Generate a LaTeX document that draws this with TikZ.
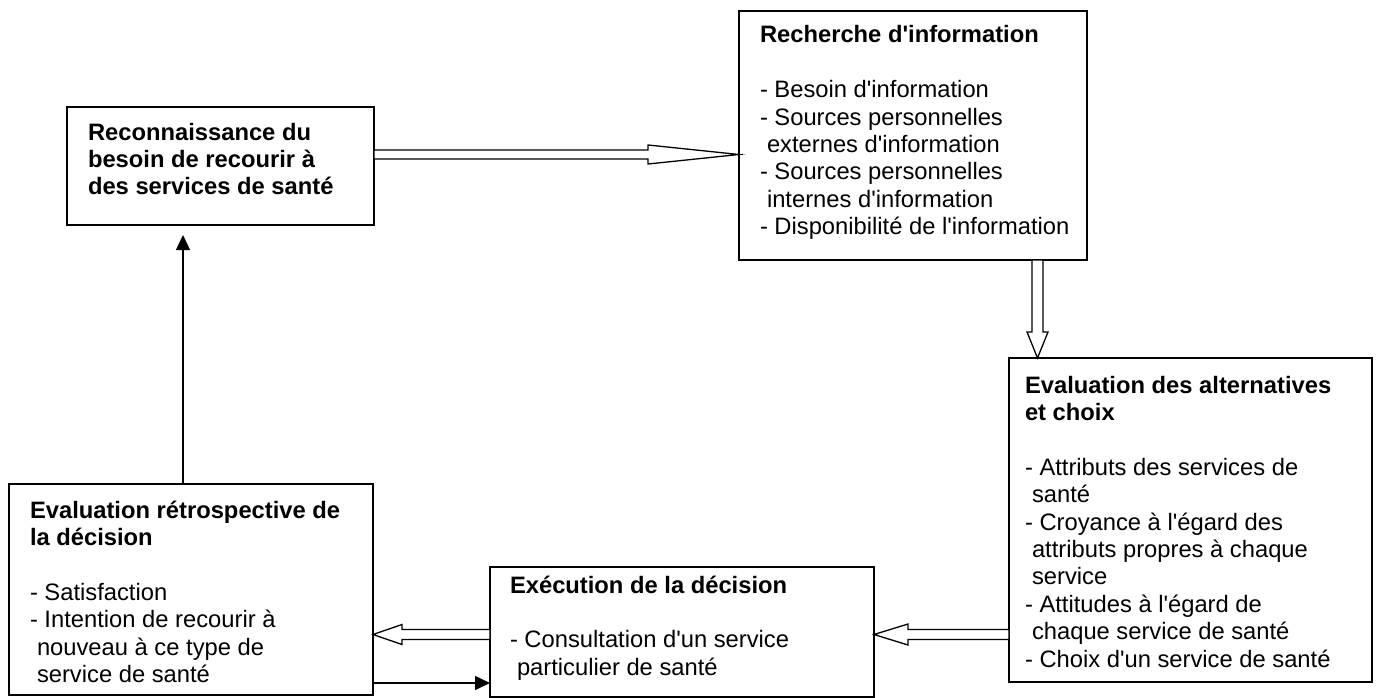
\documentclass[tikz,border=0pt]{standalone}
\usepackage{fontspec}
\setmainfont{Liberation Sans}[Ligatures=TeXOff]
\usetikzlibrary{calc,arrows.meta}
\newcommand\hollowarrow[5]{%
 \draw[hollowarr] let \p1=(#1), \p2=(#2),
  \n1={veclen(\x2-\x1,\y2-\y1)},
  \n2={(\x2-\x1)/\n1}, \n3={(\y2-\y1)/\n1} in
  ({\x1-(\n3)*#3},{\y1+(\n2)*#3})
  -- ({\x2-(\n2)*#4-(\n3)*#3},{\y2-(\n3)*#4+(\n2)*#3})
  -- ({\x2-(\n2)*#4-(\n3)*#5},{\y2-(\n3)*#4+(\n2)*#5})
  -- (\x2,\y2)
  -- ({\x2-(\n2)*#4+(\n3)*#5},{\y2-(\n3)*#4-(\n2)*#5})
  -- ({\x2-(\n2)*#4+(\n3)*#3},{\y2-(\n3)*#4-(\n2)*#3})
  -- ({\x1+(\n3)*#3},{\y1-(\n2)*#3}) -- cycle;}
\newcommand\boxtext[1]{\parbox[t]{360pt}{\raggedright #1}}
\newcommand\ind{\hspace*{7pt}}
\begin{document}
\begin{tikzpicture}[x=1pt,y=-1pt,
 box/.style={draw, line width=1.3pt, fill=white, inner sep=0pt, outer sep=0pt, anchor=north west},
 txt/.style={inner sep=0pt, outer sep=0pt, anchor=base west, font=\fontsize{23.75pt}{27.4pt}\selectfont},
 hollowarr/.style={draw, line width=1.3pt, fill=white, line join=miter},
 filledarr/.style={line width=1.3pt, -{Triangle[length=15pt,width=14pt]}}]
\useasboundingbox[fill=white] (0,0) rectangle (1378,698);

\node[box, minimum width=307pt, minimum height=118pt] (A) at (67,107) {};
\node[box, minimum width=348pt, minimum height=249pt] (B) at (739,11) {};
\node[box, minimum width=363pt, minimum height=324pt] (C) at (1009,358) {};
\node[box, minimum width=384pt, minimum height=130pt] (D) at (490,567) {};
\node[box, minimum width=364pt, minimum height=211pt] (E) at (9,484) {};

\node[txt] (tA) at ($(A.north west)+(21,33)$) {\boxtext{\bfseries Reconnaissance du\\besoin de recourir à\\des services de santé}};
\node[txt] (tB) at ($(B.north west)+(21,32)$) {\boxtext{{\bfseries Recherche d'information}\\[27.4pt]
- Besoin d'information\\
- Sources personnelles\\
\ind externes d'information\\
- Sources personnelles\\
\ind internes d'information\\
- Disponibilité de l'information}};
\node[txt] (tC) at ($(C.north west)+(16,35)$) {\boxtext{{\bfseries Evaluation des alternatives\\et choix}\\[27.4pt]
- Attributs des services de\\
\ind santé\\
- Croyance à l'égard des\\
\ind attributs propres à chaque\\
\ind service\\
- Attitudes à l'égard de\\
\ind chaque service de santé\\
- Choix d'un service de santé}};
\node[txt] (tD) at ($(D.north west)+(20,26)$) {\boxtext{{\bfseries Exécution de la décision}\\[27.4pt]
- Consultation d'un service\\
\ind particulier de santé}};
\node[txt] (tE) at ($(E.north west)+(21,34)$) {\boxtext{{\bfseries Evaluation rétrospective de\\la décision}\\[27.4pt]
- Satisfaction\\
- Intention de recourir à\\
\ind nouveau à ce type de\\
\ind service de santé}};

\coordinate (yab) at (0,154.5);
\coordinate (xbc) at (1037.5,0);
\coordinate (ycd) at (0,634.5);
\coordinate (yed) at (0,683);
\coordinate (xea) at (183,0);

\hollowarrow{A.east |- yab}{B.west |- yab}{4.5pt}{91pt}{9.5pt}
\hollowarrow{B.south -| xbc}{C.north -| xbc}{5.5pt}{26pt}{10.5pt}
\hollowarrow{C.west |- ycd}{D.east |- ycd}{5pt}{34pt}{10.5pt}
\hollowarrow{D.west |- ycd}{E.east |- ycd}{5pt}{29pt}{10pt}

\draw[filledarr] (E.east |- yed) -- (D.west |- yed);
\draw[filledarr] (E.north -| xea) -- ($(A.south -| xea)+(0,10)$);
\end{tikzpicture}
\end{document}
